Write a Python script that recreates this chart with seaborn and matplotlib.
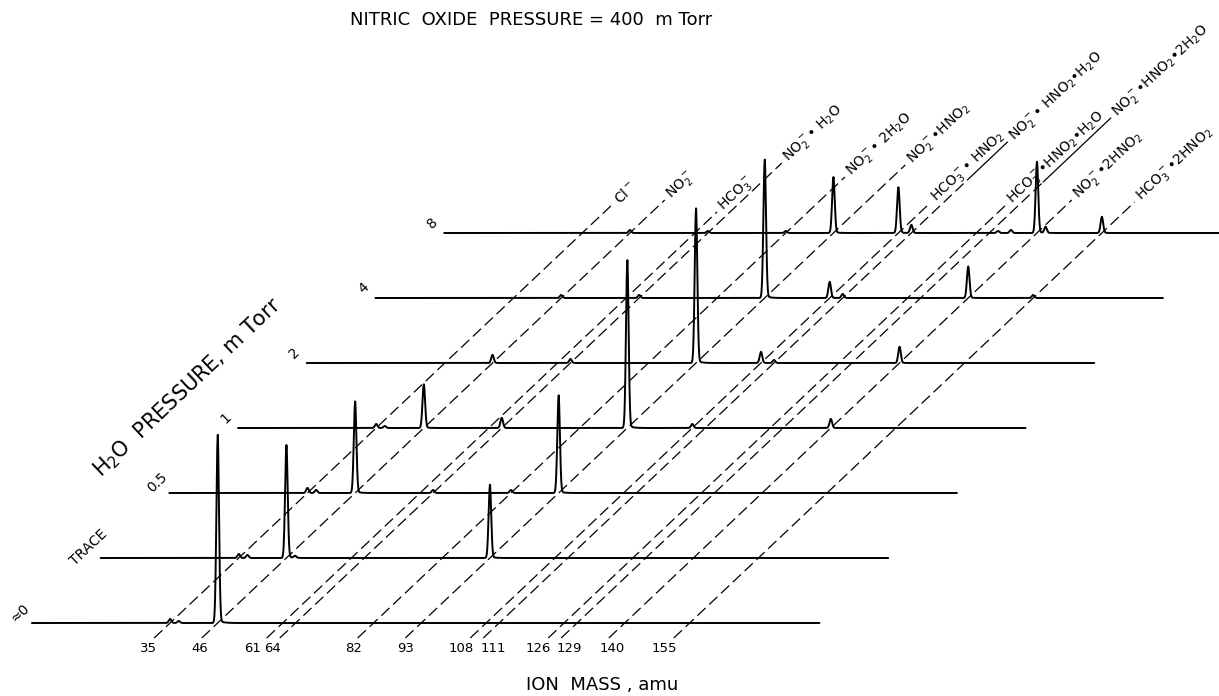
import numpy as np
import pandas as pd
import seaborn as sns
import matplotlib.pyplot as plt

sns.set_style("white")
plt.rcParams['font.family'] = ['DejaVu Sans']
plt.rcParams['text.color'] = 'black'

# H2O pressure for each trace (front to back)
row_labels = ["\u22480", "TRACE", "0.5", "1", "2", "4", "8"]

# ion masses marked by dashed guide lines
ion_mass = [35, 46, 61, 64, 82, 93, 108, 111, 126, 129, 140, 155]
ion_names = [
    "Cl$^-$", "NO$_2^-$", "HCO$_3^-$", "NO$_2^-$\u2022 H$_2$O",
    "NO$_2^-$\u2022 2H$_2$O", "NO$_2^-$\u2022HNO$_2$", "HCO$_3^-$\u2022 HNO$_2$",
    "NO$_2^-$\u2022 HNO$_2$\u2022H$_2$O", "HCO$_3^-$\u2022HNO$_2$\u2022H$_2$O",
    "NO$_2^-$\u2022HNO$_2$\u20222H$_2$O", "NO$_2^-$\u20222HNO$_2$",
    "HCO$_3^-$\u20222HNO$_2$",
]

# peaks: mass (amu) and height (arbitrary units)
peaks_0 = {35: 4, 37: 2, 46: 185}
peaks_trace = {35: 4, 37: 3, 46: 111, 48: 2, 93: 72}
peaks_05 = {35: 5, 37: 3, 46: 90, 64: 3, 82: 3, 93: 96}
peaks_1 = {35: 4, 37: 2, 46: 43, 64: 10, 93: 165, 108: 4, 140: 9}
peaks_2 = {46: 8, 64: 4, 93: 152, 108: 11, 111: 3, 140: 16}
peaks_4 = {46: 3, 64: 3, 93: 136, 108: 16, 111: 4, 140: 31, 155: 3}
peaks_8 = {46: 3, 64: 2, 82: 2, 93: 55, 108: 45, 111: 8, 131: 2, 134: 3,
           140: 70, 142: 6, 155: 16}
all_peaks = [peaks_0, peaks_trace, peaks_05, peaks_1, peaks_2, peaks_4, peaks_8]

mass_min, mass_max = 3.1, 185

# layout
px_per_amu = 4.33
x0_px = 18.5
base_px = 623
row_dx = 68.7 / px_per_amu    # oblique shift per trace, in amu
row_dy = 65
angle = np.degrees(np.arctan2(row_dy, 68.7))
label_rise = [28, 33, 21, 70, 56, 68, 30, 91, 28, 115, 33, 31]
label_nudge = [-2, 2, -10, -3, 0, 4, -5, 14, -6, 12, 7, -5]   # px, mass numbers
solid_from = {111: 53, 129: 51}

# build spectra
grid = np.arange(mass_min, mass_max, 0.04)
frames = []
for k, pk in enumerate(all_peaks):
    y = np.zeros_like(grid)
    for m, h in pk.items():
        y += h * np.exp(-0.5 * ((grid - m) / 0.3) ** 2)
        tail = np.where(grid > m, np.exp(-(grid - m) / 0.9), 0)
        y += 0.02 * h * tail
    frames.append(pd.DataFrame({"x": grid + k * row_dx, "y": y + k * row_dy, "row": k}))
spec = pd.concat(frames, ignore_index=True)

fig = plt.figure(figsize=(12.19, 6.96), dpi=100)
ax = fig.add_axes([0, 0, 1, 1])
ax.set_xlim(-x0_px / px_per_amu, (1219 - x0_px) / px_per_amu)
ax.set_ylim(base_px - 696, base_px)
ax.axis("off")

sns.lineplot(data=spec, x="x", y="y", units="row", estimator=None, sort=False,
             color="black", lw=1.4, ax=ax, legend=False)

# dashed guide lines with mass numbers and ion names
top_row = len(all_peaks) - 1
for m, name, rise, nudge in zip(ion_mass, ion_names, label_rise, label_nudge):
    s0 = -15 / row_dy
    s1 = top_row + rise / row_dy
    if m in solid_from:
        sm = top_row + solid_from[m] / row_dy
        ax.plot([m + s0 * row_dx, m + sm * row_dx], [s0 * row_dy, sm * row_dy],
                color="black", lw=0.9, dashes=(9, 4))
        ax.plot([m + sm * row_dx, m + s1 * row_dx], [sm * row_dy, s1 * row_dy],
                color="black", lw=0.9)
    else:
        ax.plot([m + s0 * row_dx, m + s1 * row_dx], [s0 * row_dy, s1 * row_dy],
                color="black", lw=0.9, dashes=(9, 4))
    ax.text(m - 4.6 + nudge / px_per_amu, -25, str(m), ha="center", va="center",
            fontsize=9.5)
    s2 = s1 + 4 / row_dy
    ax.text(m + s2 * row_dx, s2 * row_dy, name, rotation=angle,
            rotation_mode="anchor", ha="left", va="center", fontsize=10)

# trace labels
for k, lab in enumerate(row_labels):
    ax.text(mass_min + k * row_dx - 2.8, k * row_dy + 10, lab, rotation=angle,
            ha="center", va="center", fontsize=10)

ax.text((188 - x0_px) / px_per_amu, base_px - 388, "H$_2$O  PRESSURE, m Torr",
        rotation=angle, ha="center", va="center", fontsize=15)

fig.text(531 / 1219, 1 - 20 / 696, "NITRIC  OXIDE  PRESSURE = 400  m Torr",
         ha="center", va="center", fontsize=13)
fig.text(602 / 1219, 1 - 685 / 696, "ION  MASS , amu",
         ha="center", va="center", fontsize=13)

fig.savefig("out.png", dpi=100)
